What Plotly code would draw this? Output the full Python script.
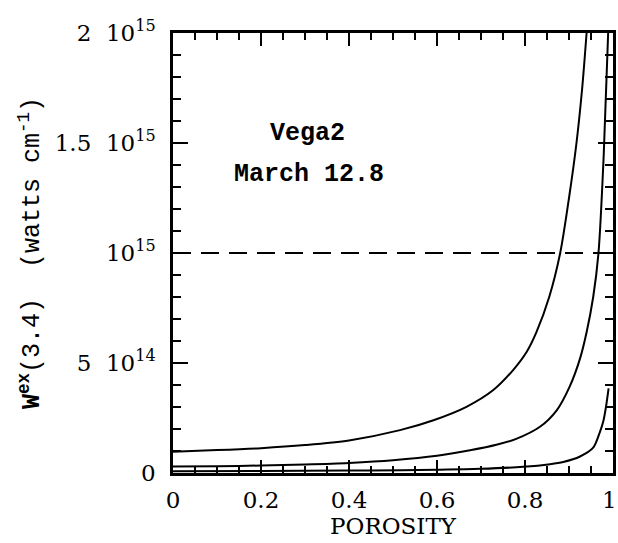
import plotly.graph_objects as go

# Porosity values and W^ex(3.4) (watts cm^-1) for the three curves
p_top = [0.0, 0.1, 0.2, 0.3, 0.4, 0.516, 0.592, 0.667, 0.728, 0.773, 0.804, 0.826, 0.855, 0.88,
         0.9, 0.917, 0.93, 0.94]
w_top = [0.97e14, 1.04e14, 1.13e14, 1.27e14, 1.48e14, 1.95e14, 2.4e14, 3.01e14, 3.77e14, 4.68e14,
         5.51e14, 6.4e14, 8.0e14, 10.0e14, 12.5e14, 15.0e14, 17.5e14, 20.0e14]

p_mid = [0.0, 0.1, 0.2, 0.3, 0.4, 0.5, 0.6, 0.675, 0.735, 0.78, 0.834, 0.872, 0.902, 0.925,
         0.94, 0.955, 0.967, 0.979, 0.989]
w_mid = [0.29e14, 0.31e14, 0.34e14, 0.39e14, 0.46e14, 0.58e14, 0.78e14, 1.03e14, 1.28e14, 1.55e14,
         2.1e14, 2.85e14, 3.95e14, 5.2e14, 6.4e14, 8.0e14, 10.0e14, 14.5e14, 20.0e14]

p_low = [0.0, 0.2, 0.4, 0.52, 0.6, 0.698, 0.796, 0.857, 0.887, 0.925, 0.955, 0.97, 0.978, 0.984, 0.99]
w_low = [0.08e14, 0.09e14, 0.11e14, 0.13e14, 0.15e14, 0.19e14, 0.28e14, 0.4e14, 0.5e14, 0.75e14,
         1.15e14, 1.85e14, 2.35e14, 3.0e14, 3.85e14]

# Dashed reference level
p_ref = [0.0, 1.0]
w_ref = [1e15, 1e15]

x_ticks = [0, 0.2, 0.4, 0.6, 0.8, 1]
x_ticktext = ["0", "0.2", "0.4", "0.6", "0.8", "1\u00a0"]
y_ticks = [0, 5e14, 1e15, 1.5e15, 2e15]
y_ticktext = ["0", "5  10<sup>14</sup>", "10<sup>15</sup>", "1.5  10<sup>15</sup>", "2  10<sup>15</sup>"]

serif = "DejaVu Serif"
mono = "Liberation Mono"

fig = go.Figure()
for px_, wy in [(p_top, w_top), (p_mid, w_mid), (p_low, w_low)]:
    fig.add_trace(go.Scatter(x=px_, y=wy, mode="lines",
                             line=dict(color="black", width=2, shape="spline", smoothing=0.8),
                             showlegend=False, hoverinfo="skip"))
fig.add_trace(go.Scatter(x=p_ref, y=w_ref, mode="lines",
                         line=dict(color="black", width=2, dash="18px,10px"),
                         showlegend=False, hoverinfo="skip"))

fig.add_annotation(x=0.305, y=1.545e15, text="<b>Vega2</b>", showarrow=False,
                   font=dict(family=mono, size=25, color="black"))
fig.add_annotation(x=0.309, y=1.359e15, text="<b>March 12.8</b>", showarrow=False,
                   font=dict(family=mono, size=25, color="black"))

axis_common = dict(showgrid=False, zeroline=False, showline=True, linecolor="black", linewidth=2.5,
                   mirror="allticks", ticks="inside", tickcolor="black", tickwidth=2,
                   automargin=False, ticklabeloverflow="allow",
                   tickfont=dict(family=serif, size=23, color="black"))

fig.update_xaxes(range=[0, 1], tickvals=x_ticks, ticktext=x_ticktext, ticklen=13, ticklabelstandoff=5,
                 minor=dict(dtick=0.05, ticks="inside", ticklen=7, tickwidth=2, tickcolor="black"),
                 title=dict(text="POROSITY", font=dict(family=serif, size=23, color="black"), standoff=0),
                 **axis_common)
fig.update_yaxes(range=[0, 2e15], tickvals=y_ticks, ticktext=y_ticktext, ticklen=15, ticklabelstandoff=10,
                 minor=dict(dtick=1e14, ticks="inside", ticklen=8, tickwidth=2, tickcolor="black"),
                 title=dict(text="<b>W</b><sup><b>ex</b></sup>(3.4)  (watts cm<sup>-1</sup>)",
                            font=dict(family=mono, size=25, color="black"), standoff=8),
                 **axis_common)

fig.update_layout(width=618, height=543, margin=dict(l=173, r=5, t=33, b=70),
                  plot_bgcolor="white", paper_bgcolor="white")

fig.write_html("out.html")
